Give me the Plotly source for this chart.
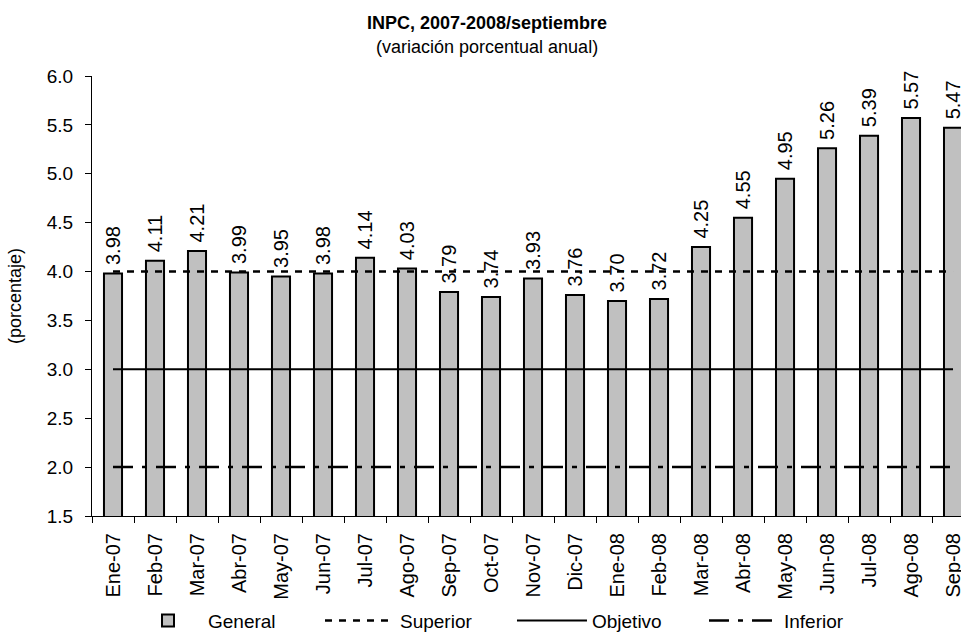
import plotly.graph_objects as go

categorias = ["Ene-07", "Feb-07", "Mar-07", "Abr-07", "May-07", "Jun-07", "Jul-07",
              "Ago-07", "Sep-07", "Oct-07", "Nov-07", "Dic-07", "Ene-08", "Feb-08",
              "Mar-08", "Abr-08", "May-08", "Jun-08", "Jul-08", "Ago-08", "Sep-08"]
general = [3.98, 4.11, 4.21, 3.99, 3.95, 3.98, 4.14, 4.03, 3.79, 3.74, 3.93, 3.76,
           3.70, 3.72, 4.25, 4.55, 4.95, 5.26, 5.39, 5.57, 5.47]
superior = [4.0] * len(categorias)
objetivo = [3.0] * len(categorias)
inferior = [2.0] * len(categorias)

FONT = "Liberation Sans, Arial, sans-serif"

fig = go.Figure()
fig.add_trace(go.Bar(
    x=categorias, y=general, name="General", width=0.43,
    marker=dict(color="#C0C0C0", line=dict(color="black", width=2)),
    cliponaxis=False,
))
fig.add_trace(go.Scatter(
    x=categorias, y=superior, name="Superior", mode="lines",
    line=dict(color="black", width=2.5, dash="7px,7px"),
))
fig.add_trace(go.Scatter(
    x=categorias, y=objetivo, name="Objetivo", mode="lines",
    line=dict(color="black", width=2),
))
fig.add_trace(go.Scatter(
    x=categorias, y=inferior, name="Inferior", mode="lines",
    line=dict(color="black", width=2.5, dash="20px,9px,5px,9px"),
))

# value labels above bars
for c, v in zip(categorias, general):
    fig.add_annotation(
        x=c, y=v, xref="x", yref="y", text=f"{v:.2f}", textangle=-90,
        showarrow=False, xanchor="center", yanchor="bottom", yshift=6,
        font=dict(size=20, family=FONT, color="black"),
    )

# title and subtitle
fig.add_annotation(
    x=0.4542, y=1.1213, xref="paper", yref="paper", xanchor="center", yanchor="middle",
    text="<b>INPC, 2007-2008/septiembre</b>", showarrow=False,
    font=dict(size=18, family=FONT, color="black"),
)
fig.add_annotation(
    x=0.4542, y=1.0667, xref="paper", yref="paper", xanchor="center", yanchor="middle",
    text="(variación porcentual anual)", showarrow=False,
    font=dict(size=18, family=FONT, color="black"),
)

fig.update_layout(
    width=961, height=633,
    margin=dict(l=92, r=0, t=76, b=117, autoexpand=False),
    paper_bgcolor="white", plot_bgcolor="white",
    font=dict(family=FONT, color="black", size=19),
    showlegend=True,
    legend=dict(
        orientation="h", x=0.0414, xanchor="left", y=-0.238, yanchor="middle",
        font=dict(size=19, family=FONT, color="black"),
        itemwidth=70, entrywidth=107, traceorder="normal", bgcolor="rgba(0,0,0,0)",
    ),
    bargap=0.57,
)
fig.update_xaxes(
    type="category", range=[-0.5, 20.19], automargin=False,
    showline=True, linecolor="black", linewidth=1,
    ticks="outside", ticklen=6, tickcolor="black", tickson="boundaries",
    tickangle=-90, tickfont=dict(size=20, family=FONT, color="black"),
    ticklabelstandoff=8,
    showgrid=False, zeroline=False,
)
fig.update_yaxes(
    range=[1.5, 6.0], dtick=0.5, tick0=1.5, tickformat=".1f", automargin=False,
    showline=True, linecolor="black", linewidth=1,
    ticks="outside", ticklen=6, tickcolor="black", ticklabelstandoff=8,
    tickfont=dict(size=19, family=FONT, color="black"),
    showgrid=False, zeroline=False,
    title=dict(text="(porcentaje)", font=dict(size=18, family=FONT, color="black"), standoff=20),
)

fig.write_html(
    "out.html",
    config={"displayModeBar": False},
    post_script="document.body.style.margin='0';document.body.style.overflow='hidden';",
)
